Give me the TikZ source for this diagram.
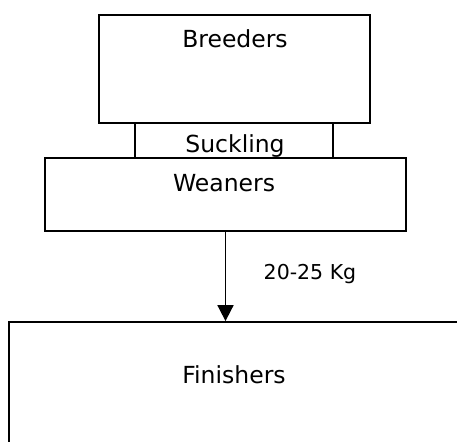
\documentclass[tikz,border=0pt]{standalone}
\usepackage{fontspec}
\setmainfont{DejaVu Sans}
\usetikzlibrary{arrows.meta}
\begin{document}
\begin{tikzpicture}[x=1pt,y=-1pt,
  box/.style={draw, line width=1.8pt, rectangle, inner sep=0pt},
  link/.style={line width=1.8pt},
  lbl/.style={font=\fontsize{23.5}{28}\selectfont, inner sep=0pt},
  small/.style={font=\fontsize{20.5}{24}\selectfont, inner sep=0pt}]
\useasboundingbox (0,0) rectangle (457,441);
\clip (0,0) rectangle (457,441);
% stage boxes
\node[box, minimum width=271pt, minimum height=108pt] (breeders) at (234.5,69) {};
\node[box, minimum width=361pt, minimum height=73pt] (weaners) at (225.5,194.5) {};
\node[box, minimum width=480pt, minimum height=150pt] (finishers) at (249,397) {};
% box titles
\node[lbl] (tbreeders) at (235,39) {Breeders};
\node[lbl] (tsuckling) at (235,146) {Suckling};
\node[lbl] (tweaners) at (224,183) {Weaners};
\node[lbl] (tfinishers) at (234,375) {Finishers};
% suckling link between breeders and weaners
\draw[link] (135,0 |- breeders.south) -- (135,0 |- weaners.north);
\draw[link] (333,0 |- breeders.south) -- (333,0 |- weaners.north);
% transfer to finishers
\draw[link, -{Triangle[width=16pt,length=16pt]}] (weaners.south) -- (weaners.south |- finishers.north);
\node[small] (weight) at (310,274) {20-25 Kg};
\end{tikzpicture}
\end{document}
